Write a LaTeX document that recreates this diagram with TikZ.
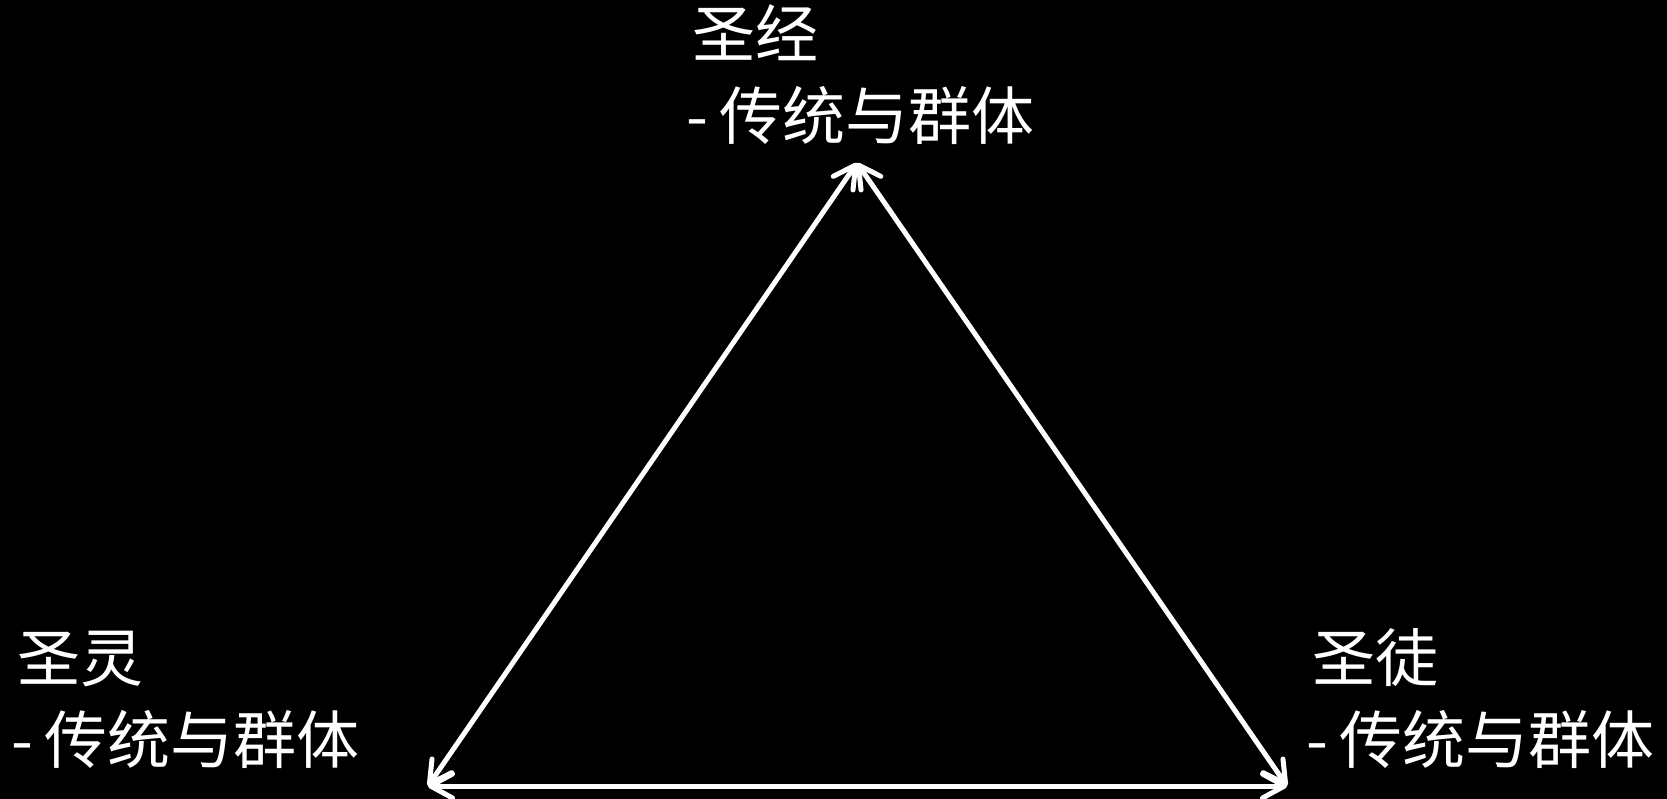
\documentclass[tikz,border=0pt]{standalone}
\usepackage{fontspec}
\newfontfamily\cjk{Noto Sans CJK SC}
\usetikzlibrary{arrows.meta}
\tikzset{
  lbl/.style={text=white, font=\cjk\fontsize{63}{82}\selectfont, align=left, inner sep=0pt, anchor=base west},
  link/.style={draw=white, line width=5pt, {Straight Barb[length=22pt,width=24pt,line cap=round,line join=round]}-{Straight Barb[length=22pt,width=24pt,line cap=round,line join=round]}}
}
\newcommand{\sub}{-\kern11pt 传统与群体}
\begin{document}
\begin{tikzpicture}[x=1pt,y=1pt]
\fill[black] (0,0) rectangle (1667,-799);
\useasboundingbox (0,0) rectangle (1667,-799);
\coordinate (A) at (857,-163);
\coordinate (L) at (428,-786);
\coordinate (R) at (1287,-786);
\node[lbl] (top) at (686,-140) {\kern6pt 圣经\\\sub};
\node[lbl] (left) at (11,-763) {\kern6pt 圣灵\\\sub};
\node[lbl] (right) at (1306,-763) {\kern6pt 圣徒\\\sub};
\draw[link] (A) -- (L);
\draw[link] (A) -- (R);
\draw[link] (L) -- (R);
\end{tikzpicture}
\end{document}
